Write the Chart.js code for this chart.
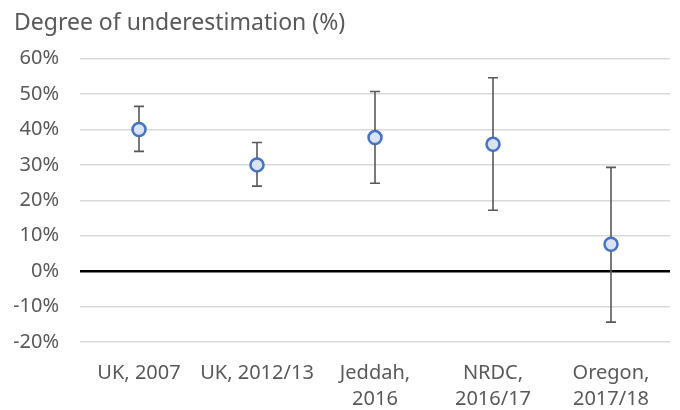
<!DOCTYPE html>
<html>
<head>
<meta charset="utf-8">
<script src="https://cdn.jsdelivr.net/npm/chart.js@4/dist/chart.umd.min.js"></script>
<style>
  body { margin: 0; background: #fff; }
</style>
</head>
<body>
<canvas id="myChart" width="680" height="410"></canvas>
<script>
// categorias e valores
const labels = [
    'UK, 2007',
    'UK, 2012/13',
    ['Jeddah,', '2016'],
    ['NRDC,', '2016/17'],
    ['Oregon,', '2017/18']
];
const values = [40, 30, 37.7, 35.8, 7.6];
const errLow = [33.8, 24, 24.8, 17.2, -14.4];
const errHigh = [46.5, 36.3, 50.7, 54.6, 29.3];
const yTicks = [-20, -10, 0, 10, 20, 30, 40, 50, 60];

const ctx = document.getElementById('myChart');

// plugin simples para desenhar as barras de erro
const errorBars = {
    id: 'errorBars',
    afterDatasetsDraw(chart) {
        const c = chart.ctx;
        const x = chart.scales.x;
        const y = chart.scales.y;
        c.save();
        c.strokeStyle = '#595959';
        c.lineWidth = 1.6;
        for (let i = 0; i < values.length; i++) {
            const px = x.getPixelForValue(i);
            const top = y.getPixelForValue(errHigh[i]);
            const bot = y.getPixelForValue(errLow[i]);
            const mid = y.getPixelForValue(values[i]);
            c.beginPath();
            c.moveTo(px, top); c.lineTo(px, mid - 7);
            c.moveTo(px, mid + 7); c.lineTo(px, bot);
            c.moveTo(px - 5, top); c.lineTo(px + 5, top);
            c.moveTo(px - 5, bot); c.lineTo(px + 5, bot);
            c.stroke();
        }
        c.restore();
    }
};

const config = {
    type: 'line',
    data: {
        labels: labels,
        datasets: [{
            data: values,
            showLine: false,
            pointRadius: 6.5,
            pointBorderWidth: 2.5,
            pointBorderColor: '#4472c4',
            pointBackgroundColor: '#dae3f3'
        }]
    },
    options: {
        responsive: false,
        animation: false,
        layout: { padding: { left: 14, right: 10, top: 4, bottom: 0 } },
        plugins: {
            legend: { display: false },
            tooltip: { enabled: false },
            title: {
                display: true,
                text: 'Degree of underestimation (%)',
                align: 'start',
                color: '#595959',
                font: { family: 'Noto Sans', size: 23, weight: 'normal' },
                padding: { top: 6, bottom: 21 }
            }
        },
        scales: {
            x: {
                offset: true,
                grid: { display: false, drawTicks: false },
                border: { display: false },
                afterFit(axis) { axis.height = 68; },
                ticks: {
                    color: '#595959',
                    font: { family: 'Noto Sans', size: 20, lineHeight: 1.3 },
                    padding: 18,
                    maxRotation: 0,
                    autoSkip: false
                }
            },
            y: {
                min: -20,
                max: 60,
                afterBuildTicks(axis) {
                    axis.ticks = yTicks.map(v => ({ value: v }));
                },
                afterFit(axis) { axis.width = 66; },
                border: { display: false },
                grid: {
                    color: c => c.tick && c.tick.value === 0 ? '#000000' : '#d9d9d9',
                    lineWidth: c => c.tick && c.tick.value === 0 ? 2.5 : 1.5,
                    drawTicks: false
                },
                ticks: {
                    color: '#595959',
                    font: { family: 'Noto Sans', size: 20 },
                    padding: 21,
                    callback: v => v + '%'
                }
            }
        }
    },
    plugins: [errorBars]
};

new Chart(ctx, config);
</script>
</body>
</html>
